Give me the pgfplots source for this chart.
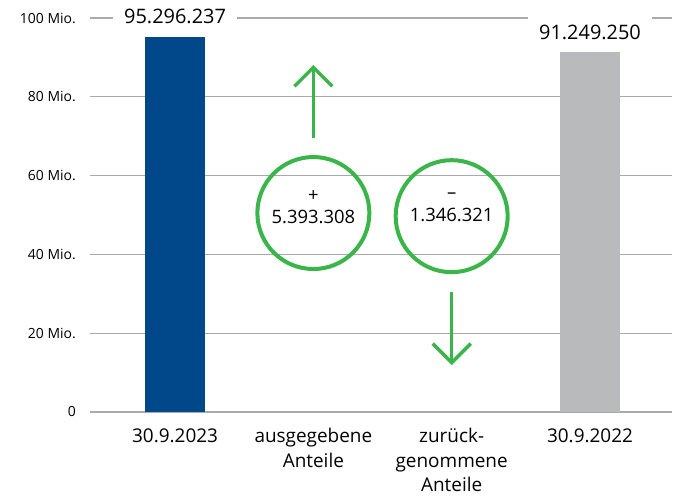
\documentclass[border=0pt]{standalone}
\usepackage{pgfplots}
\pgfplotsset{compat=1.18}
\usepackage{fontspec}
\setmainfont{Open Sans}
\usetikzlibrary{arrows.meta}
\definecolor{dblue}{RGB}{0,72,138}
\definecolor{lgray}{RGB}{185,186,188}
\definecolor{grn}{RGB}{58,181,74}
\definecolor{gridc}{RGB}{170,170,170}
\begin{document}
\begin{tikzpicture}
\begin{axis}[
 scale only axis, width=582bp, height=394bp,
 xmin=-0.615, xmax=3.593, ymin=0, ymax=100,
 axis line style={draw=none},
 major tick length=0pt,
 ytick={0,20,40,60,80,100},
 yticklabels={0,20 Mio.,40 Mio.,60 Mio.,80 Mio.,100 Mio.},
 ymajorgrids, grid style={gridc, line width=1.2bp},
 xtick={0,1,2,3},
 xticklabels={30.9.2023,{ausgegebene\\Anteile},{zurück-\\genommene\\Anteile},30.9.2022},
 xticklabel style={align=center, font=\fontsize{19}{24.5}\selectfont, anchor=north, yshift=-13bp},
 yticklabel style={font=\fontsize{14}{16}\selectfont, inner xsep=0pt, xshift=-14bp},
 ybar, bar width=60bp, bar shift=0pt,
 clip=false,
 nodes near coords, point meta=explicit symbolic,
 nodes near coords style={font=\fontsize{20}{24}\selectfont, fill=white, inner xsep=11bp, inner ysep=9bp, anchor=center, yshift=20bp},
]
\addplot[fill=dblue, draw=none] coordinates {(0,95.296237) [95.296.237]};
\addplot[fill=lgray, draw=none] coordinates {(3,91.249250) [91.249.250]};
\draw[grn, line width=4bp] (axis cs:1,50.5) circle[radius=56bp];
\draw[grn, line width=4bp] (axis cs:2,49.7) circle[radius=56bp];
\node[align=center, font=\fontsize{18.5}{23}\selectfont] at (axis cs:1,52) {+\\5.393.308};
\node[align=center, font=\fontsize{18.5}{23}\selectfont] at (axis cs:2,52) {–\\1.346.321};
\draw[grn, line width=3.5bp, -{Straight Barb[length=19bp, width=38bp]}] (axis cs:1,69.5) -- (axis cs:1,88.1);
\draw[grn, line width=3.5bp, -{Straight Barb[length=19bp, width=38bp]}] (axis cs:2,30.5) -- (axis cs:2,11.9);
\end{axis}
\pgfresetboundingbox
\path[use as bounding box] ([xshift=-90bp,yshift=-87bp]current axis.south west) rectangle ([xshift=591bp,yshift=412bp]current axis.south west);
\end{tikzpicture}
\end{document}
